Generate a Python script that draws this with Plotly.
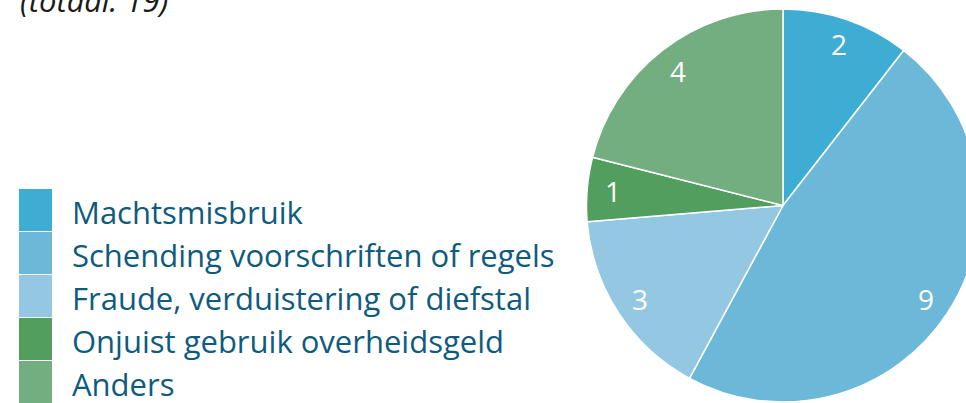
import math
import plotly.graph_objects as go

categories = ["Machtsmisbruik", "Schending voorschriften of regels",
              "Fraude, verduistering of diefstal", "Onjuist gebruik overheidsgeld", "Anders"]
values = [2, 9, 3, 1, 4]
colors = ["#3eadd4", "#6cb8d9", "#94c8e2", "#519e5e", "#72ae7f"]
title_text = "(totaal: {})".format(sum(values))

W, H = 990, 403
FONT = "'Open Sans', Lato, sans-serif"
TEXT_COLOR = "#0e5b7e"


def px(x):
    return x / W


def py(y):
    return 1 - y / H


# pie geometry (pixels)
cx, cy, R = 783, 205.5, 196.5

fig = go.Figure(go.Pie(
    labels=categories, values=values, sort=False, direction="clockwise", rotation=0,
    marker=dict(colors=colors, line=dict(color="white", width=1.5)),
    textinfo="none", hoverinfo="label+value", showlegend=False,
    domain=dict(x=[px(cx - R), px(cx + R)], y=[py(cy + R), py(cy - R)]),
))

annotations = []
# slice value labels
total = sum(values)
cum = 0
for v in values:
    mid = (cum + v / 2) / total * 2 * math.pi
    cum += v
    r = 0.87 * R
    annotations.append(dict(
        x=px(cx + r * math.sin(mid)), y=py(cy - r * math.cos(mid)),
        xref="paper", yref="paper", text=str(v), showarrow=False,
        font=dict(family=FONT, size=28, color="white"),
        xanchor="center", yanchor="middle"))

# manual legend
shapes = []
row_top, row_h = 189, 43
for i, (cat, col) in enumerate(zip(categories, colors)):
    y0 = row_top + i * row_h
    shapes.append(dict(type="rect", xref="paper", yref="paper",
                       x0=px(19), x1=px(52), y0=py(y0 + row_h - 1), y1=py(y0),
                       fillcolor=col, line=dict(width=0)))
    annotations.append(dict(
        x=px(70), y=py(y0 + row_h / 2 + 1), xref="paper", yref="paper",
        text=cat, showarrow=False, xanchor="left", yanchor="middle",
        font=dict(family=FONT, size=31, color=TEXT_COLOR)))

# cut-off title
annotations.append(dict(
    x=px(18), y=py(0), xref="paper", yref="paper", text="<i>" + title_text + "</i>",
    showarrow=False, xanchor="left", yanchor="middle",
    font=dict(family=FONT, size=31, color="#1a1a1a")))

fig.update_layout(
    width=W, height=H, margin=dict(l=0, r=0, t=0, b=0),
    paper_bgcolor="white", plot_bgcolor="white",
    annotations=annotations, shapes=shapes,
)

fig.write_html(
    "out.html",
    config={"displayModeBar": False},
    post_script="document.body.style.margin='0';document.body.style.overflow='hidden';"
                "document.documentElement.style.overflow='hidden';",
)
